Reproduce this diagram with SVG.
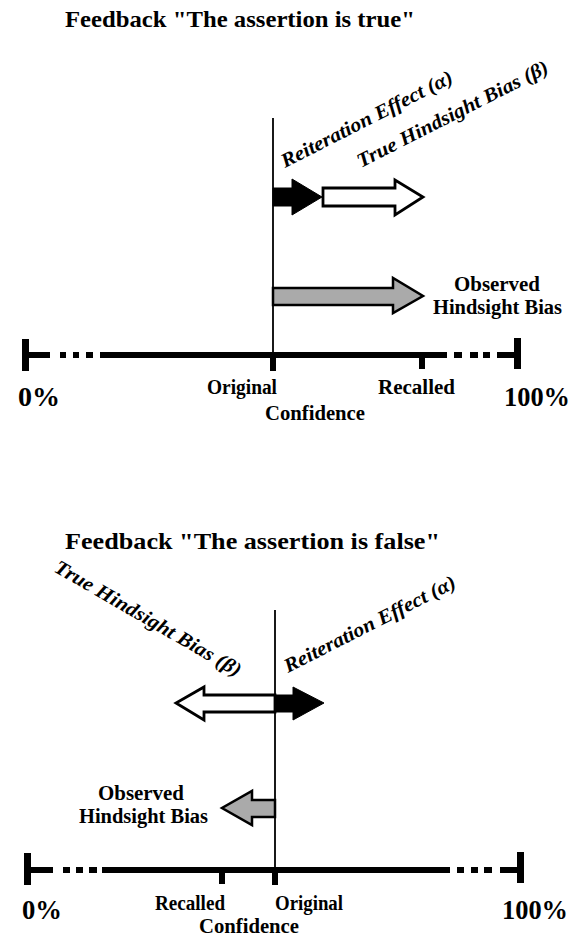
<svg xmlns="http://www.w3.org/2000/svg" width="581" height="941" viewBox="0 0 581 941">
<style>
.t{font-family:"Liberation Serif","Times New Roman",serif;font-weight:bold;fill:#000}
.it{font-family:"Liberation Serif","Times New Roman",serif;font-weight:bold;font-style:italic;fill:#000;font-size:20px}
.ax{fill:#000}
.vl{stroke:#000;stroke-width:1.8;fill:none}
.blk{fill:#000;stroke:#000;stroke-width:1}
.wht{fill:#fff;stroke:#000;stroke-width:2.8;stroke-linejoin:miter}
.gry{fill:#aaa;stroke:#000;stroke-width:2.5;stroke-linejoin:miter}
</style>
<rect width="581" height="941" fill="#fff"/>

<!-- Top panel -->
<g id="title-top">
<text class="t" x="65" y="27" font-size="24" textLength="350" lengthAdjust="spacingAndGlyphs">Feedback  "The assertion is true"</text>
</g>

<g id="axis-top">
<rect class="ax" x="22" y="339" width="7" height="32"/>
<rect class="ax" x="28" y="352" width="22" height="6"/>
<rect class="ax" x="60" y="352" width="6" height="6"/>
<rect class="ax" x="73" y="352" width="6" height="6"/>
<rect class="ax" x="86" y="352" width="7" height="6"/>
<rect class="ax" x="100" y="352" width="347" height="6"/>
<rect class="ax" x="454" y="352" width="8" height="6"/>
<rect class="ax" x="470" y="352" width="8" height="6"/>
<rect class="ax" x="483" y="352" width="7" height="6"/>
<rect class="ax" x="497" y="352" width="20" height="6"/>
<rect class="ax" x="514" y="338" width="7" height="31"/>
<rect class="ax" x="270" y="352" width="6" height="19"/>
<rect class="ax" x="419" y="352" width="6" height="17"/>
</g>
<g id="labels-top">
<text class="t" x="18" y="406" font-size="28" textLength="42" lengthAdjust="spacingAndGlyphs">0%</text>
<text class="t" x="504" y="406" font-size="28" textLength="66" lengthAdjust="spacingAndGlyphs">100%</text>
<text class="t" x="207" y="394" font-size="20" textLength="70" lengthAdjust="spacingAndGlyphs">Original</text>
<text class="t" x="378" y="394" font-size="20" textLength="77" lengthAdjust="spacingAndGlyphs">Recalled</text>
<text class="t" x="265" y="420" font-size="20" textLength="100" lengthAdjust="spacingAndGlyphs">Confidence</text>
</g>

<g id="connectors-top">
<line class="vl" x1="273" y1="118" x2="273" y2="355"/>
</g>

<g id="reiteration-top">
<polygon class="blk" points="273,188 292,188 292,179 322,197 292,215 292,206 273,206"/>
<text class="it" transform="translate(285,168) rotate(-27)" textLength="190" lengthAdjust="spacingAndGlyphs">Reiteration Effect (α)</text>
</g>
<g id="true-bias-top">
<polygon class="wht" points="323,188 395,188 395,180 423,197 395,215 395,206 323,206"/>
<text class="it" transform="translate(361,168) rotate(-27)" textLength="212" lengthAdjust="spacingAndGlyphs">True Hindsight Bias (β)</text>
</g>
<g id="observed-top">
<polygon class="gry" points="273,288 393,288 393,278 423,296 393,313 393,305 273,305"/>
<text class="t" x="497" y="291" font-size="20" text-anchor="middle" textLength="86" lengthAdjust="spacingAndGlyphs">Observed</text>
<text class="t" x="433" y="314" font-size="20" textLength="129" lengthAdjust="spacingAndGlyphs">Hindsight Bias</text>
</g>

<!-- Bottom panel -->
<g id="title-bottom">
<text class="t" x="65" y="549" font-size="24" textLength="375" lengthAdjust="spacingAndGlyphs">Feedback  "The assertion is false"</text>
</g>

<g id="axis-bottom">
<rect class="ax" x="24" y="853" width="7" height="32"/>
<rect class="ax" x="30" y="867" width="23" height="6"/>
<rect class="ax" x="63" y="867" width="7" height="6"/>
<rect class="ax" x="76" y="867" width="7" height="6"/>
<rect class="ax" x="89" y="867" width="8" height="6"/>
<rect class="ax" x="102" y="867" width="348" height="6"/>
<rect class="ax" x="457" y="867" width="7" height="6"/>
<rect class="ax" x="471" y="867" width="7" height="6"/>
<rect class="ax" x="484" y="867" width="8" height="6"/>
<rect class="ax" x="500" y="867" width="20" height="6"/>
<rect class="ax" x="517" y="852" width="7" height="31"/>
<rect class="ax" x="219" y="867" width="6" height="17"/>
<rect class="ax" x="272" y="867" width="6" height="18"/>
</g>
<g id="labels-bottom">
<text class="t" x="22" y="919" font-size="28" textLength="40" lengthAdjust="spacingAndGlyphs">0%</text>
<text class="t" x="502" y="919" font-size="28" textLength="66" lengthAdjust="spacingAndGlyphs">100%</text>
<text class="t" x="155" y="910" font-size="20" textLength="70" lengthAdjust="spacingAndGlyphs">Recalled</text>
<text class="t" x="275" y="910" font-size="20" textLength="68" lengthAdjust="spacingAndGlyphs">Original</text>
<text class="t" x="199" y="933" font-size="20" textLength="100" lengthAdjust="spacingAndGlyphs">Confidence</text>
</g>

<g id="connectors-bottom">
<line class="vl" x1="275" y1="610" x2="275" y2="870"/>
</g>

<g id="true-bias-bottom">
<polygon class="wht" points="275,695 204,695 204,687 176,703 204,720 204,712 275,712"/>
<text class="it" transform="translate(53,571) rotate(30)" textLength="212" lengthAdjust="spacingAndGlyphs">True Hindsight Bias (β)</text>
</g>
<g id="reiteration-bottom">
<polygon class="blk" points="275,695 293,695 293,687 324,703 293,720 293,712 275,712"/>
<text class="it" transform="translate(288,673) rotate(-27)" textLength="190" lengthAdjust="spacingAndGlyphs">Reiteration Effect (α)</text>
</g>
<g id="observed-bottom">
<polygon class="gry" points="275,800 252,800 252,791 222,808 252,825 252,817 275,817"/>
<text class="t" x="141" y="800" font-size="20" text-anchor="middle" textLength="86" lengthAdjust="spacingAndGlyphs">Observed</text>
<text class="t" x="79" y="823" font-size="20" textLength="129" lengthAdjust="spacingAndGlyphs">Hindsight Bias</text>
</g>
</svg>
